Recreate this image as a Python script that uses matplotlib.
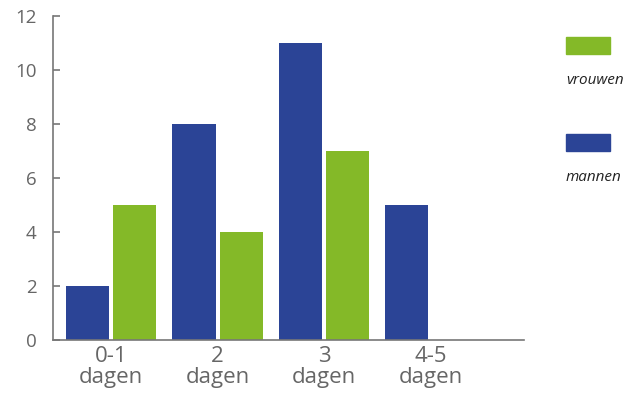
import numpy as np
import matplotlib.pyplot as plt
from matplotlib.patches import Rectangle

plt.rcParams['font.family'] = ['Open Sans', 'DejaVu Sans']

categories = ["0-1\ndagen", "2\ndagen", "3\ndagen", "4-5\ndagen"]
mannen = [2, 8, 11, 5]
vrouwen = [5, 4, 7, 0]

blue = "#2b4496"
green = "#84b928"
grey = "#666666"

fig = plt.figure(figsize=(6.41, 3.94), dpi=100)
ax = fig.add_axes([0.0827, 0.137, 0.7348, 0.822])

x = np.arange(len(categories))
w = 0.404
ax.bar(x - 0.221, mannen, width=w, color=blue)
ax.bar(x + 0.221, vrouwen, width=w, color=green)

ax.set_xlim(-0.545, 3.878)
ax.set_ylim(0, 12)
ax.set_yticks(range(0, 13, 2))
ax.set_xticks(x)
ax.set_xticklabels(categories, linespacing=1.0)

for side in ["top", "right"]:
    ax.spines[side].set_visible(False)
for side in ["left", "bottom"]:
    ax.spines[side].set_color("#777777")
    ax.spines[side].set_linewidth(1.2)

ax.tick_params(axis="y", direction="in", length=5, width=1.2, color="#777777",
               labelsize=13.5, labelcolor=grey, pad=12)
ax.tick_params(axis="x", length=0, labelsize=16, labelcolor=grey, pad=4)

# legend drawn by hand: swatch with the label underneath
W, H = 641, 394
for y_top, color, label in [(37, green, "vrouwen"), (134, blue, "mannen")]:
    fig.patches.append(Rectangle((566 / W, 1 - (y_top + 17) / H), 44 / W, 17 / H,
                                 transform=fig.transFigure, color=color))
    fig.text(566 / W, 1 - (y_top + 43) / H, label, fontsize=11, style="italic",
             color="#222222", va="center", ha="left")

fig.savefig("out.png", dpi=100)
